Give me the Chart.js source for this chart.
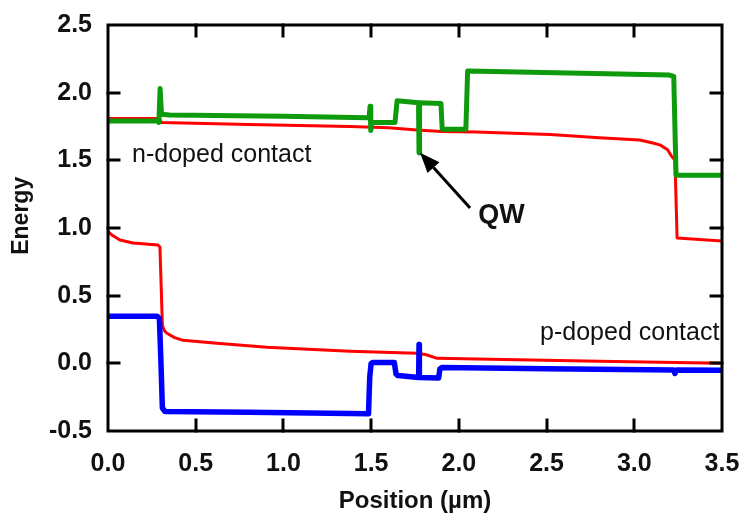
<!DOCTYPE html>
<html>
<head>
<meta charset="utf-8">
<script src="https://cdn.jsdelivr.net/npm/chart.js@4.4.1/dist/chart.umd.min.js"></script>
<style>
  html, body { margin: 0; padding: 0; background: #fff; }
  #wrap { width: 739px; height: 516px; }
</style>
</head>
<body>
<div id="wrap"><canvas id="bandChart" width="739" height="516"></canvas></div>
<script>
// conduction band (green)
const ecPos = [0, 0.28, 0.29, 0.297, 0.305, 0.35, 1.0, 1.48, 1.488, 1.494, 1.498, 1.505, 1.636, 1.648, 1.77, 1.773, 1.776, 1.898, 1.905, 2.04, 2.05, 3.20, 3.225, 3.238, 3.5];
const ecVal = [1.79, 1.79, 1.78, 2.03, 1.84, 1.835, 1.825, 1.815, 1.815, 1.90, 1.72, 1.78, 1.78, 1.94, 1.925, 1.555, 1.925, 1.92, 1.73, 1.73, 2.16, 2.13, 2.12, 1.39, 1.39];

// upper quasi-Fermi level (red)
const efnPos = [0, 0.29, 0.305, 0.8, 1.38, 1.6, 1.76, 1.9, 2.1, 2.52, 2.8, 3.03, 3.1, 3.15, 3.19, 3.21, 3.232, 3.244, 3.5];
const efnVal = [1.81, 1.81, 1.78, 1.765, 1.75, 1.74, 1.725, 1.713, 1.71, 1.69, 1.667, 1.65, 1.63, 1.612, 1.578, 1.535, 1.50, 0.926, 0.904];

// lower quasi-Fermi level (red)
const efpPos = [0, 0.02, 0.068, 0.143, 0.285, 0.296, 0.31, 0.322, 0.336, 0.38, 0.428, 0.62, 0.906, 1.38, 1.76, 1.81, 1.876, 2.18, 2.8, 3.5];
const efpVal = [0.975, 0.95, 0.911, 0.889, 0.874, 0.86, 0.28, 0.24, 0.222, 0.19, 0.17, 0.148, 0.119, 0.089, 0.074, 0.065, 0.037, 0.03, 0.015, 0.0];

// valence band (blue)
const evPos = [0, 0.28, 0.293, 0.302, 0.31, 0.325, 0.8, 1.38, 1.485, 1.492, 1.50, 1.51, 1.632, 1.642, 1.652, 1.771, 1.773, 1.775, 1.885, 1.892, 1.905, 2.5, 3.225, 3.232, 3.24, 3.5];
const evVal = [0.348, 0.348, 0.33, 0.0, -0.33, -0.356, -0.362, -0.37, -0.372, -0.1, 0.0, 0.007, 0.007, -0.08, -0.09, -0.104, 0.14, -0.104, -0.108, -0.04, -0.03, -0.04, -0.05, -0.075, -0.05, -0.052];

const xTicks = [0, 0.5, 1.0, 1.5, 2.0, 2.5, 3.0, 3.5];
const yTicks = [-0.5, 0, 0.5, 1.0, 1.5, 2.0, 2.5];

const FONT = "'Liberation Sans', Arial, Helvetica, sans-serif";

function pts(xs, ys) {
  return xs.map((x, i) => ({ x: x, y: ys[i] }));
}

function band(data, color, width, order) {
  return {
    data: data,
    borderColor: color,
    borderWidth: width,
    pointRadius: 0,
    tension: 0,
    fill: false,
    borderJoinStyle: 'round',
    borderCapStyle: 'round',
    order: order
  };
}

// frame with inward ticks on all four sides, plus the labels inside the plot
const framePlugin = {
  id: 'frame',
  afterDatasetsDraw(chart) {
    const ctx = chart.ctx;
    const xs = chart.scales.x, ys = chart.scales.y;
    ctx.save();
    ctx.fillStyle = '#111';
    ctx.textBaseline = 'alphabetic';
    ctx.font = '25px ' + FONT;
    ctx.fillText('n-doped contact', xs.getPixelForValue(0.137), ys.getPixelForValue(1.489));
    ctx.fillText('p-doped contact', xs.getPixelForValue(2.463), ys.getPixelForValue(0.17));
    ctx.font = 'bold 27px ' + FONT;
    ctx.fillText('QW', xs.getPixelForValue(2.11), ys.getPixelForValue(1.037));

    // arrow pointing at the well
    const x0 = xs.getPixelForValue(2.064), y0 = ys.getPixelForValue(1.148);
    const x1 = xs.getPixelForValue(1.779), y1 = ys.getPixelForValue(1.556);
    const ang = Math.atan2(y1 - y0, x1 - x0);
    const head = 20, half = 8;
    const bx = x1 - head * Math.cos(ang), by = y1 - head * Math.sin(ang);
    ctx.strokeStyle = '#000';
    ctx.lineWidth = 3;
    ctx.beginPath();
    ctx.moveTo(x0, y0);
    ctx.lineTo(bx, by);
    ctx.stroke();
    ctx.fillStyle = '#000';
    ctx.beginPath();
    ctx.moveTo(x1, y1);
    ctx.lineTo(bx + half * Math.sin(ang), by - half * Math.cos(ang));
    ctx.lineTo(bx - half * Math.sin(ang), by + half * Math.cos(ang));
    ctx.closePath();
    ctx.fill();
    ctx.restore();
  },
  afterDraw(chart) {
    const ctx = chart.ctx;
    const a = chart.chartArea;
    const xs = chart.scales.x, ys = chart.scales.y;
    const tl = 11;
    ctx.save();
    ctx.strokeStyle = '#000';
    ctx.lineWidth = 3;
    ctx.lineCap = 'square';
    ctx.strokeRect(a.left, a.top, a.right - a.left, a.bottom - a.top);
    ctx.beginPath();
    xTicks.slice(1, -1).forEach(v => {
      const px = Math.round(xs.getPixelForValue(v));
      ctx.moveTo(px, a.bottom); ctx.lineTo(px, a.bottom - tl);
      ctx.moveTo(px, a.top); ctx.lineTo(px, a.top + tl);
    });
    yTicks.slice(1, -1).forEach(v => {
      const py = Math.round(ys.getPixelForValue(v));
      ctx.moveTo(a.left, py); ctx.lineTo(a.left + tl, py);
      ctx.moveTo(a.right, py); ctx.lineTo(a.right - tl, py);
    });
    ctx.stroke();

    // vertical axis title, sitting a little above the middle of the frame
    ctx.fillStyle = '#111';
    ctx.font = 'bold 23px ' + FONT;
    ctx.textAlign = 'center';
    ctx.textBaseline = 'middle';
    ctx.translate(22, ys.getPixelForValue(1.09));
    ctx.rotate(-Math.PI / 2);
    ctx.fillText('Energy', 0, 0);
    ctx.restore();
  }
};

new Chart(document.getElementById('bandChart'), {
  type: 'line',
  data: {
    datasets: [
      band(pts(efnPos, efnVal), '#ff0000', 3, 3),
      band(pts(efpPos, efpVal), '#ff0000', 3, 3),
      band(pts(ecPos, ecVal), '#0d9a0d', 5, 1),
      band(pts(evPos, evVal), '#0000ff', 5.5, 2)
    ]
  },
  options: {
    responsive: false,
    animation: false,
    layout: { autoPadding: false, padding: { top: 25, right: 17, left: 0, bottom: 0 } },
    plugins: { legend: { display: false }, tooltip: { enabled: false } },
    scales: {
      x: {
        type: 'linear',
        min: 0,
        max: 3.5,
        afterFit: s => { s.height = 85; s.paddingLeft = 0; s.paddingRight = 0; },
        afterBuildTicks: s => { s.ticks = xTicks.map(v => ({ value: v })); },
        grid: { display: false },
        border: { display: false },
        ticks: {
          color: '#111',
          padding: 10,
          maxRotation: 0,
          autoSkip: false,
          font: { family: FONT, size: 25, weight: 'bold' },
          callback: v => v.toFixed(1)
        },
        title: {
          display: true,
          text: 'Position (µm)',
          color: '#111',
          padding: { top: 0, bottom: 0 },
          font: { family: FONT, size: 24, weight: 'bold' }
        }
      },
      y: {
        type: 'linear',
        min: -0.5,
        max: 2.5,
        afterFit: s => { s.width = 108; s.paddingTop = 0; s.paddingBottom = 0; },
        afterBuildTicks: s => { s.ticks = yTicks.map(v => ({ value: v })); },
        grid: { display: false },
        border: { display: false },
        ticks: {
          color: '#111',
          padding: 8,
          autoSkip: false,
          font: { family: FONT, size: 25, weight: 'bold' },
          callback: v => v.toFixed(1)
        },
        title: { display: false }
      }
    }
  },
  plugins: [framePlugin]
});
</script>
</body>
</html>
